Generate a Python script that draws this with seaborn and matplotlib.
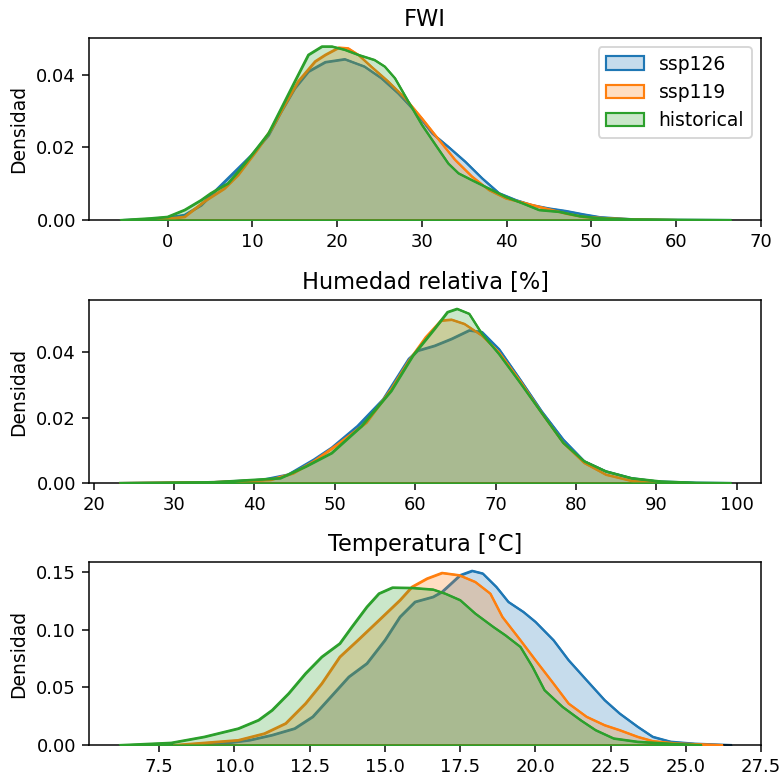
import matplotlib
matplotlib.use("Agg")
import matplotlib.pyplot as plt
import seaborn as sns
from matplotlib.colors import to_rgba

# ---------------- data ----------------
series_names = ["ssp126", "ssp119", "historical"]
series_colors = ["#1f77b4", "#ff7f0e", "#2ca02c"]
titles = ["FWI", "Humedad relativa [%]", "Temperatura [°C]"]

# FWI
fwi_ssp126_x = [-5.1, -1.2, 2.0, 3.95, 5.9, 7.9, 9.9, 11.9, 13.4, 15.0, 16.6, 18.6, 20.9, 23.2, 25.2, 27.2,
                29.2, 31.2, 33.1, 35.1, 37.1, 39.1, 41.1, 43.0, 45.0, 47.0, 49.0, 51.0, 52.9, 55.0, 60.0, 66.4]
fwi_ssp126_y = [0, 0.0003, 0.0014, 0.0041, 0.0087, 0.0133, 0.0179, 0.0234, 0.0299, 0.0363, 0.0409, 0.0435,
                0.0443, 0.0423, 0.0391, 0.0349, 0.0299, 0.0239, 0.0202, 0.0161, 0.0115, 0.0074, 0.0055, 0.0041,
                0.0032, 0.0025, 0.0016, 0.0008, 0.0005, 0.0002, 0.00005, 0]
fwi_ssp119_x = [-4.3, -0.4, 2.0, 4.3, 6.7, 8.3, 10.7, 12.3, 13.8, 15.4, 17.4, 18.6, 20.2, 21.3, 22.5, 24.0,
                26.0, 28.0, 30.0, 32.0, 33.9, 35.9, 37.9, 39.9, 42.3, 44.6, 47.0, 49.0, 51.8, 55.0, 60.0]
fwi_ssp119_y = [0, 0.0003, 0.0009, 0.0051, 0.0087, 0.0124, 0.0198, 0.0253, 0.0317, 0.0382, 0.0437, 0.0455,
                0.0475, 0.0473, 0.0455, 0.0423, 0.0382, 0.0336, 0.028, 0.0221, 0.0166, 0.012, 0.0083, 0.006,
                0.0046, 0.0032, 0.0018, 0.0009, 0.0005, 0.0002, 0]
fwi_hist_x = [-5.5, -2.0, 0.0, 2.0, 3.95, 5.1, 7.1, 8.3, 9.9, 11.9, 13.4, 15.0, 16.6, 18.2, 19.4, 20.9, 22.5,
              24.4, 25.6, 26.8, 28.4, 30.0, 31.6, 33.1, 34.3, 35.9, 37.9, 39.9, 41.9, 43.8, 46.2, 48.6, 51.0,
              55.0, 60.0, 66.4]
fwi_hist_y = [0, 0.0005, 0.0009, 0.0028, 0.0055, 0.0074, 0.0101, 0.0133, 0.0179, 0.0239, 0.0308, 0.0382,
              0.0455, 0.0478, 0.0478, 0.0469, 0.0455, 0.0441, 0.0423, 0.0391, 0.0326, 0.0262, 0.0207, 0.0156,
              0.0129, 0.011, 0.0087, 0.0064, 0.0046, 0.0028, 0.0023, 0.0011, 0.0005, 0.0002, 0.0001, 0]

# Humedad relativa
hr_ssp126_x = [23.3, 35.0, 41.0, 44.2, 47.4, 49.6, 52.8, 56.0, 59.2, 60.3, 62.4, 64.5, 66.7, 68.3, 70.4, 73.0,
               75.7, 78.4, 81.0, 83.7, 86.9, 90.0, 95.0, 99.2]
hr_ssp126_y = [0, 0.0003, 0.001, 0.0026, 0.0072, 0.0108, 0.0174, 0.0256, 0.038, 0.0405, 0.042, 0.0441, 0.0467,
               0.0462, 0.041, 0.0318, 0.022, 0.0133, 0.0067, 0.0036, 0.0015, 0.0005, 0.0001, 0]
hr_ssp119_x = [23.3, 35.0, 42.0, 44.8, 47.4, 50.6, 53.9, 57.0, 59.2, 61.3, 63.2, 64.5, 66.1, 68.3, 70.4, 73.0,
               75.7, 78.4, 81.0, 83.7, 86.9, 89.0, 93.0]
hr_ssp119_y = [0, 0.0003, 0.001, 0.003, 0.0067, 0.0123, 0.0185, 0.0287, 0.0374, 0.0446, 0.0497, 0.05, 0.0487,
               0.0451, 0.04, 0.0313, 0.0215, 0.0123, 0.0062, 0.0026, 0.0007, 0.0002, 0]
hr_hist_x = [23.3, 35.0, 43.2, 46.4, 49.6, 53.3, 57.0, 59.7, 62.4, 64.0, 65.2, 66.7, 68.3, 70.4, 73.0, 75.7,
             78.4, 81.0, 83.7, 86.9, 90.6, 95.0, 99.2]
hr_hist_y = [0, 0.0003, 0.0015, 0.0051, 0.0092, 0.0174, 0.0282, 0.039, 0.0472, 0.0523, 0.0533, 0.0518, 0.0456,
             0.0395, 0.0308, 0.0215, 0.0123, 0.0067, 0.0036, 0.0015, 0.0005, 0.0001, 0]

# Temperatura
t_ssp126_x = [8.5, 9.6, 10.5, 11.25, 12.0, 12.6, 13.1, 13.8, 14.4, 15.0, 15.5, 16.0, 16.6, 16.9, 17.5, 17.9,
              18.25, 18.7, 19.1, 19.6, 20.0, 20.6, 21.1, 21.7, 22.3, 22.8, 23.4, 23.9, 24.5, 25.3, 26.5]
t_ssp126_y = [0, 0.0014, 0.0043, 0.0087, 0.0144, 0.0246, 0.039, 0.0592, 0.0708, 0.091, 0.1112, 0.1242, 0.1285,
              0.1329, 0.1473, 0.1511, 0.1488, 0.1372, 0.1242, 0.1155, 0.1069, 0.091, 0.0737, 0.0563, 0.039,
              0.0274, 0.0159, 0.0072, 0.0029, 0.0012, 0]
t_ssp119_x = [8.0, 9.0, 10.13, 11.0, 11.7, 12.36, 12.9, 13.5, 14.1, 14.8, 15.5, 15.9, 16.4, 16.9, 17.47, 18.0,
              18.5, 18.9, 19.5, 20.0, 20.6, 21.1, 21.7, 22.3, 22.8, 23.4, 23.9, 24.7, 26.2]
t_ssp119_y = [0, 0.002, 0.0043, 0.0101, 0.0188, 0.0361, 0.0534, 0.0765, 0.091, 0.1083, 0.1257, 0.1372, 0.1444,
              0.1493, 0.1473, 0.1415, 0.1314, 0.1112, 0.091, 0.0737, 0.0534, 0.0361, 0.0246, 0.0173, 0.013,
              0.0072, 0.0035, 0.0014, 0]
t_hist_x = [6.2, 7.9, 9.0, 10.13, 10.8, 11.25, 11.8, 12.36, 12.9, 13.5, 13.9, 14.4, 14.8, 15.25, 15.9, 16.6,
            17.0, 17.5, 18.0, 18.6, 19.0, 19.5, 19.9, 20.3, 20.9, 21.5, 22.0, 22.6, 23.4, 24.5, 25.5]
t_hist_y = [0, 0.002, 0.0072, 0.0144, 0.0217, 0.0303, 0.0448, 0.0621, 0.0765, 0.0881, 0.1025, 0.1199, 0.1314,
            0.1366, 0.1363, 0.1349, 0.1314, 0.1257, 0.1141, 0.1025, 0.0953, 0.0852, 0.0679, 0.0477, 0.0332,
            0.0217, 0.013, 0.0058, 0.0029, 0.0012, 0]

panels = [
    [(fwi_ssp126_x, fwi_ssp126_y), (fwi_ssp119_x, fwi_ssp119_y), (fwi_hist_x, fwi_hist_y)],
    [(hr_ssp126_x, hr_ssp126_y), (hr_ssp119_x, hr_ssp119_y), (hr_hist_x, hr_hist_y)],
    [(t_ssp126_x, t_ssp126_y), (t_ssp119_x, t_ssp119_y), (t_hist_x, t_hist_y)],
]
x_limits = [(-9.26, 70.0), (19.44, 103.0), (5.17, 27.5)]

# ---------------- figure ----------------
W, H = 780, 779
DPI = 135
fig = plt.figure(figsize=(W / DPI, H / DPI), dpi=DPI)
axes_px = [(37.7, 220.0), (300.0, 483.0), (562.0, 745.0)]  # (top, bottom) in pixels
left_px, right_px = 89.0, 761.0
LW = 1.15

for p, (series, (top, bot)) in enumerate(zip(panels, axes_px)):
    ax = fig.add_axes([left_px / W, 1 - bot / H, (right_px - left_px) / W, (bot - top) / H])
    handles = []
    ymax = 0
    for i, ((xs, ys), name, col) in enumerate(zip(series, series_names, series_colors)):
        fill = ax.fill_between(xs, ys, 0, facecolor=to_rgba(col, 0.25), edgecolor=col,
                               linewidth=LW, zorder=2 + i)
        sns.lineplot(x=xs, y=ys, ax=ax, color=col, linewidth=LW, zorder=2.5 + i, sort=False)
        handles.append(fill)
        ymax = max(ymax, max(ys))
    ax.set_xlim(*x_limits[p])
    ax.set_ylim(0, ymax * 1.05)
    ax.set_title(titles[p])
    ax.set_ylabel("Densidad")
    ax.set_xlabel("")
    ax.tick_params(labelsize=9.6)
    if p == 0:
        ax.legend(handles=handles, labels=series_names, loc="upper right")
    elif ax.get_legend() is not None:
        ax.get_legend().remove()

fig.savefig("out.png", dpi=DPI)
